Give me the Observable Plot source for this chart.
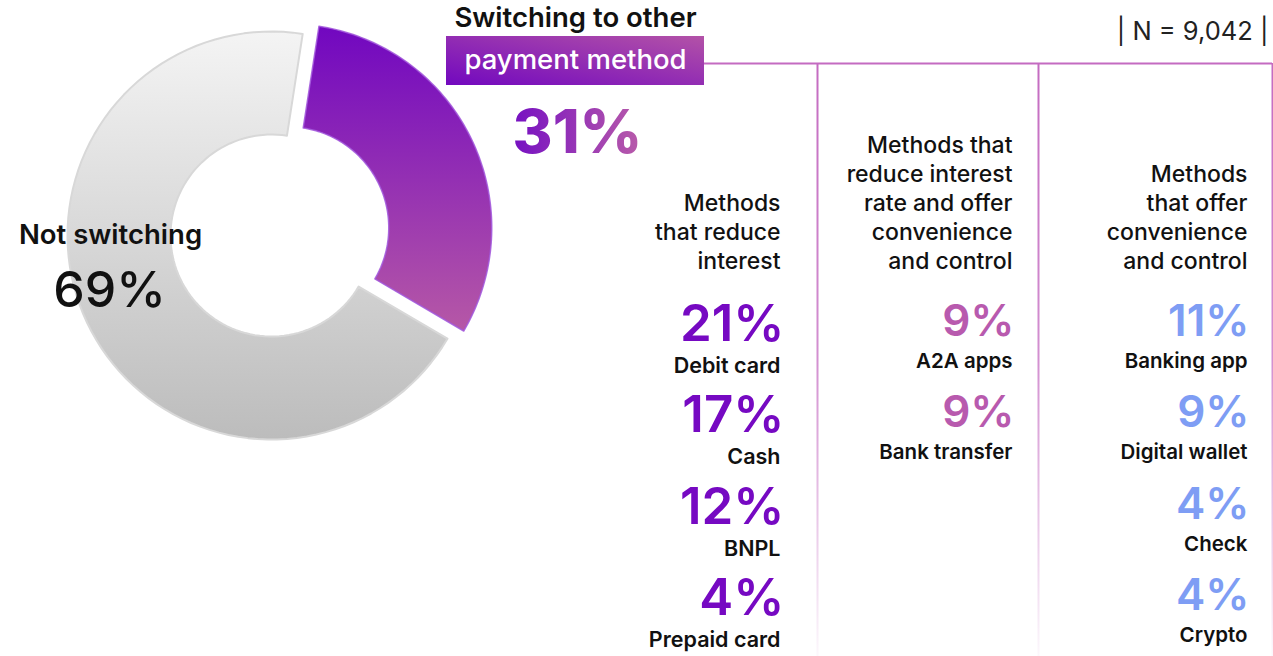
<!DOCTYPE html>
<html>
<head>
<meta charset="utf-8">
<script src="https://cdn.jsdelivr.net/npm/d3@7"></script>
<script src="https://cdn.jsdelivr.net/npm/@observablehq/plot@0.6"></script>
<style>
  html, body { margin: 0; padding: 0; background: #fff; }
  #chart { width: 1273px; height: 656px; }
</style>
</head>
<body>
<div id="chart"></div>
<script>
// ---------- data ----------
const splitLabels = ["Switching to other", "payment method", "Not switching"];
const splitValues = [31, 69];           // switching, not switching
const sampleSize = 9042;

const groupTitles = [
  "Methods\nthat reduce\ninterest",
  "Methods that\nreduce interest\nrate and offer\nconvenience\nand control",
  "Methods\nthat offer\nconvenience\nand control"
];
const reduceMethods = ["Debit card", "Cash", "BNPL", "Prepaid card"];
const reduceValues  = [21, 17, 12, 4];
const bothMethods   = ["A2A apps", "Bank transfer"];
const bothValues    = [9, 9];
const convMethods   = ["Banking app", "Digital wallet", "Check", "Crypto"];
const convValues    = [11, 9, 4, 4];

// ---------- layout ----------
const W = 1273, H = 656;
const FONT = "Inter, 'Noto Sans', sans-serif";
const donut = {cx: 271, cy: 235, r0: 101, r1: 204, start: 8.8 * Math.PI / 180, explode: 18};
const colRight  = [780, 1012, 1247];
const valRight  = [784, 1014, 1249];
const colLines  = [817, 1038, 1272];
const rowTop    = [324, 321, 321];
const rowStep   = 91.5;
const valSize   = [51, 44, 44];
const labSize   = [21.5, 20.5, 20.5];
const labOffset = [48, 46, 46];
const colColors = ["#7609c2", "#b85aae", "#7e9df4"];
const headerBase = 268;
const topLineY = 63;

// ---------- derived tables ----------
const groups = [
  {methods: reduceMethods, values: reduceValues},
  {methods: bothMethods, values: bothValues},
  {methods: convMethods, values: convValues}
];
const rows = groups.flatMap((g, gi) => g.methods.map((m, ri) => ({group: gi, rank: ri, method: m, value: g.values[ri]})));
const headers = groupTitles.map((t, gi) => ({group: gi, title: t}));

// donut polygons from the pie layout
const arcs = d3.pie().sort(null).startAngle(donut.start).endAngle(donut.start + 2 * Math.PI)(splitValues);
function arcPolygon(a, i) {
  const n = 90, pts = [];
  const mid = (a.startAngle + a.endAngle) / 2;
  const off = i === 0 ? donut.explode : 0;
  const ox = off * Math.sin(mid), oy = -off * Math.cos(mid);
  for (let k = 0; k <= n; k++) {
    const t = a.startAngle + (a.endAngle - a.startAngle) * k / n;
    pts.push({slice: i, x: donut.cx + ox + donut.r1 * Math.sin(t), y: donut.cy + oy - donut.r1 * Math.cos(t)});
  }
  for (let k = n; k >= 0; k--) {
    const t = a.startAngle + (a.endAngle - a.startAngle) * k / n;
    pts.push({slice: i, x: donut.cx + ox + donut.r0 * Math.sin(t), y: donut.cy + oy - donut.r0 * Math.cos(t)});
  }
  return pts;
}
const switchPoly = arcPolygon(arcs[0], 0);
const notPoly = arcPolygon(arcs[1], 1);

// gradient definitions
const defs = () => {
  const d = document.createElementNS("http://www.w3.org/2000/svg", "defs");
  d.innerHTML = `
    <linearGradient id="gGrey" x1="0" y1="0" x2="0" y2="1">
      <stop offset="0" stop-color="#f4f4f4"/><stop offset="1" stop-color="#bcbcbc"/>
    </linearGradient>
    <linearGradient id="gPurple" x1="0" y1="0" x2="0" y2="1">
      <stop offset="0" stop-color="#7107c0"/><stop offset="1" stop-color="#b658a6"/>
    </linearGradient>
    <linearGradient id="gBox" x1="0" y1="1" x2="1" y2="0">
      <stop offset="0" stop-color="#7208bf"/><stop offset="1" stop-color="#b352a7"/>
    </linearGradient>
    <linearGradient id="gText" x1="0" y1="0" x2="1" y2="0">
      <stop offset="0" stop-color="#7610c2"/><stop offset="1" stop-color="#b95ca9"/>
    </linearGradient>
    <linearGradient id="gFade" gradientUnits="userSpaceOnUse" x1="0" y1="${topLineY}" x2="0" y2="${H}">
      <stop offset="0" stop-color="#c46bc1" stop-opacity="1"/>
      <stop offset="0.5" stop-color="#c46bc1" stop-opacity="0.75"/>
      <stop offset="1" stop-color="#c46bc1" stop-opacity="0.05"/>
    </linearGradient>`;
  return d;
};

const pct = v => `${v}%`;

const chart = Plot.plot({
  width: W, height: H, margin: 0,
  x: {domain: [0, W], range: [0, W], axis: null},
  y: {domain: [0, H], range: [0, H], axis: null},
  style: {fontFamily: FONT, background: "#fff", overflow: "visible"},
  marks: [
    defs,
    // donut
    Plot.line(notPoly, {x: "x", y: "y", curve: "linear-closed", fill: "url(#gGrey)", stroke: "#d8d8d8", strokeWidth: 2}),
    Plot.line(switchPoly, {x: "x", y: "y", curve: "linear-closed", fill: "url(#gPurple)", stroke: "#a257dc", strokeWidth: 1.5, strokeOpacity: 0.85}),
    // donut labels
    Plot.text([splitLabels[2]], {x: 110, y: 243, text: d => d, fontSize: 27.5, fontWeight: 600, fill: "#111", lineAnchor: "bottom"}),
    Plot.text([splitValues[1]], {x: 109, y: 306, text: pct, fontSize: 50, fontWeight: 500, fill: "#111", lineAnchor: "bottom"}),
    Plot.text([splitLabels[0]], {x: 575, y: 26, text: d => d, fontSize: 27.5, fontWeight: 600, fill: "#111", lineAnchor: "bottom"}),
    Plot.rect([0], {x1: 446, x2: 704, y1: 36, y2: 85, fill: "url(#gBox)"}),
    Plot.text([splitLabels[1]], {x: 575, y: 68, text: d => d, fontSize: 27.5, fontWeight: 500, fill: "#fff", lineAnchor: "bottom"}),
    Plot.text([splitValues[0]], {x: 577, y: 152, text: pct, fontSize: 61, fontWeight: 800, fill: "url(#gText)", lineAnchor: "bottom"}),
    // sample size
    Plot.text([sampleSize], {x: 1268, y: 39, text: d => `| N = ${d3.format(",")(d)} |`, fontSize: 25.5, fontWeight: 400, fill: "#222", textAnchor: "end", lineAnchor: "bottom"}),
    // frame lines
    Plot.ruleY([topLineY], {x1: 704, x2: 1272, stroke: "#c46bc1", strokeWidth: 2}),
    Plot.ruleX(colLines, {x: d => d, y1: topLineY, y2: H, stroke: "url(#gFade)", strokeWidth: 2}),
    // headers
    Plot.text(headers, {x: d => colRight[d.group], y: headerBase, text: "title", textAnchor: "end", lineAnchor: "bottom", lineHeight: 1.26, fontSize: 23, fontWeight: 500, fill: "#111"}),
    // values
    ...[0, 1, 2].map(g => Plot.text(rows.filter(r => r.group === g), {
      x: d => valRight[d.group], y: d => rowTop[d.group] + d.rank * rowStep, text: d => pct(d.value),
      textAnchor: "end", lineAnchor: "middle", fontSize: valSize[g], fontWeight: 600, fill: colColors[g]
    })),
    // method labels
    ...[0, 1, 2].map(g => Plot.text(rows.filter(r => r.group === g), {
      x: d => colRight[d.group], y: d => rowTop[d.group] + d.rank * rowStep + labOffset[d.group], text: "method",
      textAnchor: "end", lineAnchor: "bottom", fontSize: labSize[g], fontWeight: 600, fill: "#111"
    }))
  ]
});
document.getElementById("chart").append(chart);
</script>
</body>
</html>
